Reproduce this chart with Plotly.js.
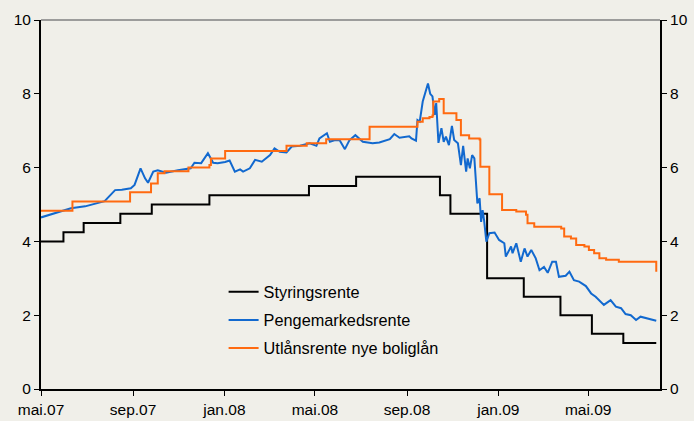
<!DOCTYPE html>
<html>
<head>
<meta charset="utf-8">
<script src="https://cdn.plot.ly/plotly-3.0.1.min.js"></script>
<style>
html,body{margin:0;padding:0;background:#F0EFE9;}
#chart{width:694px;height:421px;}
</style>
</head>
<body>
<div id="chart"></div>
<script>
// Styringsrente (policy rate), step series
const policyDates = ['2007-05-01','2007-05-31','2007-06-27','2007-08-15','2007-09-26','2007-12-12','2008-04-23','2008-06-25','2008-10-15','2008-10-29','2008-12-17','2009-02-04','2009-03-25','2009-05-06','2009-06-17','2009-07-31'];
const policyRate = [4.00,4.25,4.50,4.75,5.00,5.25,5.50,5.75,5.25,4.75,3.00,2.50,2.00,1.50,1.25,1.25];

// Pengemarkedsrente (money market rate)
const moneyDates = ['2007-05-01','2007-05-13','2007-05-27','2007-06-10','2007-06-29','2007-07-25','2007-08-08','2007-08-17','2007-08-29','2007-09-03','2007-09-11','2007-09-17','2007-09-21','2007-09-28','2007-10-04','2007-10-15','2007-10-31','2007-11-17','2007-11-22','2007-12-01','2007-12-10','2007-12-17','2007-12-23',
'2008-01-02','2008-01-08','2008-01-15','2008-01-22','2008-01-26','2008-02-04','2008-02-11','2008-02-20','2008-03-02','2008-03-08','2008-03-15','2008-03-24','2008-03-31','2008-04-11','2008-04-24','2008-05-03','2008-05-07','2008-05-17','2008-05-21','2008-05-27','2008-06-03','2008-06-10','2008-06-16','2008-06-24','2008-07-04','2008-07-17','2008-07-26','2008-08-09','2008-08-15','2008-08-22','2008-09-04','2008-09-07','2008-09-13','2008-09-15','2008-09-18','2008-09-22','2008-09-29','2008-10-02','2008-10-05','2008-10-08','2008-10-10','2008-10-13','2008-10-17','2008-10-20','2008-10-23','2008-10-27','2008-10-31','2008-11-03','2008-11-08','2008-11-12','2008-11-15','2008-11-19','2008-11-21','2008-11-24','2008-11-27','2008-11-30','2008-12-04','2008-12-07','2008-12-09','2008-12-11','2008-12-13','2008-12-16','2008-12-20','2008-12-27',
'2009-01-02','2009-01-09','2009-01-11','2009-01-18','2009-01-20','2009-01-25','2009-01-31','2009-02-05','2009-02-09','2009-02-14','2009-02-20','2009-02-25','2009-03-03','2009-03-08','2009-03-14','2009-03-19','2009-03-23','2009-04-01','2009-04-06','2009-04-12','2009-04-19','2009-04-28','2009-05-05','2009-05-11','2009-05-18','2009-05-22','2009-05-31','2009-06-07','2009-06-14','2009-06-20','2009-06-27','2009-07-04','2009-07-10','2009-07-19','2009-07-31'];
const moneyRate = [4.65,4.72,4.80,4.90,4.95,5.09,5.39,5.40,5.44,5.53,5.98,5.71,5.59,5.89,5.93,5.86,5.93,5.98,6.13,6.12,6.39,6.13,6.12,
6.15,6.19,5.89,5.95,5.89,5.98,6.21,6.16,6.34,6.52,6.43,6.41,6.57,6.59,6.66,6.59,6.79,6.93,6.70,6.74,6.74,6.50,6.74,6.88,6.70,6.66,6.68,6.77,6.91,6.81,6.85,6.79,6.73,7.29,7.25,7.79,8.28,8.00,7.93,7.43,7.75,6.67,7.07,6.70,6.84,6.61,7.13,6.75,6.66,6.07,6.59,5.89,6.25,5.98,6.34,6.25,5.03,5.17,4.53,4.85,4.57,3.99,4.22,4.24,
4.04,3.95,3.59,3.86,3.68,3.95,3.45,3.81,3.59,3.77,3.54,3.22,3.31,3.15,3.45,3.45,3.04,3.07,3.18,2.95,2.91,2.79,2.59,2.50,2.37,2.28,2.41,2.23,2.19,2.03,2.00,1.87,1.96,1.92,1.85];

// Utlånsrente nye boliglån (new mortgage lending rate)
const lendingDates = ['2007-05-01','2007-06-12','2007-08-28','2007-09-25','2007-10-04','2007-10-13','2007-11-14','2007-12-12','2007-12-14','2008-01-02','2008-03-24','2008-04-20','2008-05-16','2008-07-13','2008-09-15','2008-09-22','2008-10-01','2008-10-05','2008-10-06','2008-10-14','2008-10-20','2008-11-06','2008-11-12','2008-11-23','2008-12-07','2008-12-08','2008-12-20','2009-01-06','2009-01-25','2009-02-07','2009-02-09','2009-02-18','2009-03-26','2009-03-30','2009-04-08','2009-04-15','2009-04-26','2009-05-02','2009-05-09','2009-05-16','2009-05-25','2009-06-11','2009-07-30','2009-07-31'];
const lendingRate = [4.83,5.08,5.33,5.57,5.85,5.90,6.00,6.07,6.25,6.45,6.59,6.66,6.77,7.11,7.24,7.34,7.37,7.41,7.79,7.86,7.47,7.29,6.88,6.79,6.76,6.02,5.28,4.85,4.81,4.72,4.49,4.40,4.35,4.13,4.08,3.90,3.86,3.77,3.68,3.54,3.50,3.45,3.45,3.18];

const tickDates = ['2007-05-01','2007-09-01','2008-01-01','2008-05-01','2008-09-01','2009-01-01','2009-05-01'];
const tickLabels = ['mai.07','sep.07','jan.08','mai.08','sep.08','jan.09','mai.09'];
const legendNames = ['Styringsrente','Pengemarkedsrente','Utlånsrente nye boliglån'];

const FONT = 'Liberation Sans, Arial, sans-serif';

const traces = [
  {x: policyDates, y: policyRate, name: legendNames[0], type:'scatter', mode:'lines', line:{color:'#000000', width:2, shape:'hv'}, legendgroup:'a'},
  {x: moneyDates, y: moneyRate, name: legendNames[1], type:'scatter', mode:'lines', line:{color:'#1269CF', width:2}, legendgroup:'b'},
  {x: lendingDates, y: lendingRate, name: legendNames[2], type:'scatter', mode:'lines', line:{color:'#FF6A10', width:2, shape:'hv'}, legendgroup:'c'},
  {x: [tickDates[0]], y:[0], yaxis:'y2', type:'scatter', mode:'lines', showlegend:false, hoverinfo:'skip', line:{color:'rgba(0,0,0,0)'}}
];

const layout = {
  width: 694, height: 421,
  paper_bgcolor: '#F0EFE9', plot_bgcolor: '#F0EFE9',
  margin: {l:41, r:34, t:20, b:32},
  font: {family: FONT, size: 15.5, color:'#000'},
  showlegend: true,
  legend: {x:0.295, y:0.31, xanchor:'left', yanchor:'top', bgcolor:'rgba(0,0,0,0)', font:{family:FONT, size:16.3}, tracegroupgap:4, traceorder:'grouped'},
  xaxis: {type:'date', range:['2007-05-01','2009-08-05'], tickvals: tickDates, ticktext: tickLabels,
          ticks:'outside', ticklen:5, tickcolor:'#000', tickwidth:1, showline:true, linecolor:'#000', linewidth:2,
          showgrid:false, zeroline:false, tickfont:{family:FONT, size:15.5}, fixedrange:true},
  yaxis: {range:[0,10], dtick:2, tick0:0, ticks:'outside', ticklen:5, tickcolor:'#000', showline:true, linecolor:'#000', linewidth:2,
          showgrid:false, zeroline:false, tickfont:{family:FONT, size:15.5}},
  yaxis2: {range:[0,10], dtick:2, tick0:0, overlaying:'y', side:'right', ticks:'outside', ticklen:5, tickcolor:'#000', showline:true, linecolor:'#000', linewidth:2,
          showgrid:false, zeroline:false, tickfont:{family:FONT, size:15.5}},
  shapes: [{type:'line', xref:'paper', yref:'paper', x0:0, x1:1, y0:1, y1:1, line:{color:'#808080', width:1.5}}]
};

Plotly.newPlot('chart', traces, layout, {displayModeBar:false, staticPlot:true});
</script>
</body>
</html>
